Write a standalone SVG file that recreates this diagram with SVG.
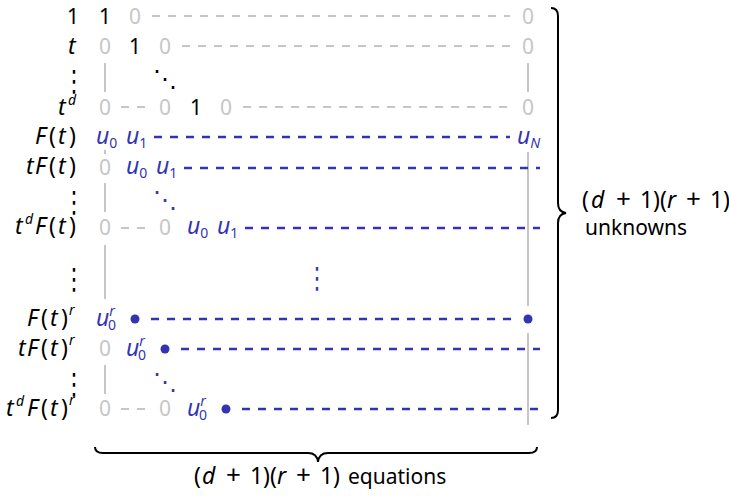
<svg xmlns="http://www.w3.org/2000/svg" width="729" height="496" viewBox="0 0 729 496">
<style>
text { font-family: "Noto Sans", "DejaVu Sans", sans-serif; font-size: 21px; fill: #000; }
.c { text-anchor: middle; }
.m { font-size: 23px; }
.i { font-style: italic; font-size: 23px; }
.p { font-size: 26px; }
.g { fill: #c6c6c6; }
.b { fill: #3434b2; }
.s { font-size: 14px; }
.dots { font-family: "DejaVu Sans", sans-serif; font-size: 22px; text-anchor: middle; }
.diag { font-family: "DejaVu Sans", sans-serif; font-size: 24px; text-anchor: middle; }
.gl { stroke: #c6c6c6; stroke-width: 2; fill: none; }
.gd { stroke: #c6c6c6; stroke-width: 2; stroke-dasharray: 8 8; fill: none; }
.bd { stroke: #3434b2; stroke-width: 2.4; stroke-dasharray: 8 8; fill: none; }
.dot { fill: #3434b2; }
.brace { stroke: #000; stroke-width: 2; fill: none; }
</style>

<g id="connectors">
  <path class="gd" d="M152,16 H510"/>
  <path class="gd" d="M182,46 H510"/>
  <path class="gd" d="M121,107 H145"/>
  <path class="gd" d="M243,107 H514"/>
  <path class="gd" d="M121,228 H145"/>
  <path class="gd" d="M121,409 H145"/>
  <path class="gl" d="M105,63 V92"/>
  <path class="gl" d="M105,150 V154"/>
  <path class="gl" d="M105,183 V212"/>
  <path class="gl" d="M105,245 V299"/>
  <path class="gl" d="M105,365 V394"/>
  <path class="gl" d="M528,63 V92"/>
  <path class="gl" d="M528,152 V306"/>
  <path class="gl" d="M528,333 V425"/>
  <path class="bd" d="M154,137 H510"/>
  <path class="bd" d="M184,168 H540"/>
  <path class="bd" d="M245,228 H540"/>
  <path class="bd" d="M151,319 H512"/>
  <path class="bd" d="M181,349 H540"/>
  <path class="bd" d="M242,409 H540"/>
</g>

<g id="row-1">
  <text x="67" y="24">1</text>
  <text class="c" x="105" y="24">1</text>
  <text class="c g" x="135" y="24">0</text>
  <text class="c g" x="528" y="24">0</text>
</g>

<g id="row-t">
  <text class="i" x="68" y="54">t</text>
  <text class="c g" x="105" y="54">0</text>
  <text class="c" x="135" y="54">1</text>
  <text class="c g" x="165" y="54">0</text>
  <text class="c g" x="528" y="54">0</text>
</g>

<g id="dots-1">
  <text class="dots" x="74" y="0" transform="translate(0,91) scale(1,1.33)">⋮</text>
  <text class="diag" x="165" y="87">⋱</text>
</g>

<g id="row-td">
  <text y="115"><tspan class="i" x="58">t</tspan><tspan class="i s" x="68" dy="-10">d</tspan></text>
  <text class="c g" x="105" y="115">0</text>
  <text class="c g" x="165" y="115">0</text>
  <text class="c" x="196" y="115">1</text>
  <text class="c g" x="226" y="115">0</text>
  <text class="c g" x="528" y="115">0</text>
</g>

<g id="row-Ft">
  <text y="144"><tspan class="i" x="35">F</tspan><tspan class="m" x="49">(</tspan><tspan class="i" x="58">t</tspan><tspan class="m" x="69">)</tspan></text>
  <text class="b" x="96" y="144"><tspan class="i">u</tspan><tspan class="s" dy="4">0</tspan></text>
  <text class="b" x="126" y="144"><tspan class="i">u</tspan><tspan class="s" dy="4">1</tspan></text>
  <text class="b" x="517" y="144"><tspan class="i">u</tspan><tspan class="i s" dy="4">N</tspan></text>
</g>

<g id="row-tFt">
  <text y="174"><tspan class="i" x="26">t</tspan><tspan class="i" x="35">F</tspan><tspan class="m" x="49">(</tspan><tspan class="i" x="58">t</tspan><tspan class="m" x="69">)</tspan></text>
  <text class="c g" x="105" y="175">0</text>
  <text class="b" x="126" y="174"><tspan class="i">u</tspan><tspan class="s" dy="4">0</tspan></text>
  <text class="b" x="156" y="174"><tspan class="i">u</tspan><tspan class="s" dy="4">1</tspan></text>
</g>

<g id="dots-2">
  <text class="dots" x="74" y="0" transform="translate(0,212) scale(1,1.33)">⋮</text>
  <text class="diag b" x="165" y="208">⋱</text>
</g>

<g id="row-tdFt">
  <text y="234"><tspan class="i" x="15">t</tspan><tspan class="i s" x="25" dy="-10">d</tspan><tspan class="i" x="35" dy="10">F</tspan><tspan class="m" x="49">(</tspan><tspan class="i" x="58">t</tspan><tspan class="m" x="69">)</tspan></text>
  <text class="c g" x="105" y="235">0</text>
  <text class="c g" x="165" y="235">0</text>
  <text class="b" x="187" y="234"><tspan class="i">u</tspan><tspan class="s" dy="4">0</tspan></text>
  <text class="b" x="217" y="234"><tspan class="i">u</tspan><tspan class="s" dy="4">1</tspan></text>
</g>

<g id="dots-3">
  <text class="dots" x="74" y="0" transform="translate(0,289) scale(1,1.33)">⋮</text>
  <text class="dots b" x="317" y="0" transform="translate(0,288) scale(1,1.33)">⋮</text>
</g>

<g id="row-Ftr">
  <text y="326"><tspan class="i" x="27">F</tspan><tspan class="m" x="41">(</tspan><tspan class="i" x="50">t</tspan><tspan class="m" x="61">)</tspan><tspan class="i s" x="69" dy="-11">r</tspan></text>
  <text class="b" x="96" y="326"><tspan class="i">u</tspan><tspan class="i s" dy="-10">r</tspan><tspan class="s" x="108" dy="14">0</tspan></text>
  <circle class="dot" cx="135" cy="319" r="4.5"/>
  <circle class="dot" cx="528" cy="319" r="4.5"/>
</g>

<g id="row-tFtr">
  <text y="356"><tspan class="i" x="18">t</tspan><tspan class="i" x="27">F</tspan><tspan class="m" x="41">(</tspan><tspan class="i" x="50">t</tspan><tspan class="m" x="61">)</tspan><tspan class="i s" x="69" dy="-11">r</tspan></text>
  <text class="c g" x="105" y="356">0</text>
  <text class="b" x="126" y="356"><tspan class="i">u</tspan><tspan class="i s" dy="-10">r</tspan><tspan class="s" x="138" dy="14">0</tspan></text>
  <circle class="dot" cx="165" cy="349" r="4.5"/>
</g>

<g id="dots-4">
  <text class="dots" x="74" y="0" transform="translate(0,394) scale(1,1.33)">⋮</text>
  <text class="diag b" x="165" y="390">⋱</text>
</g>

<g id="row-tdFtr">
  <text y="416"><tspan class="i" x="6">t</tspan><tspan class="i s" x="16" dy="-10">d</tspan><tspan class="i" x="27" dy="10">F</tspan><tspan class="m" x="41">(</tspan><tspan class="i" x="50">t</tspan><tspan class="m" x="61">)</tspan><tspan class="i s" x="69" dy="-11">r</tspan></text>
  <text class="c g" x="105" y="416">0</text>
  <text class="c g" x="165" y="416">0</text>
  <text class="b" x="187" y="416"><tspan class="i">u</tspan><tspan class="i s" dy="-10">r</tspan><tspan class="s" x="199" dy="14">0</tspan></text>
  <circle class="dot" cx="226" cy="409" r="4.5"/>
</g>

<g id="brace-right">
  <path class="brace" d="M551,8 Q558,8 558,16 V203 Q558,212 566,213 Q558,214 558,223 V410 Q558,418 551,418"/>
  <text y="208"><tspan class="m" x="582">(</tspan><tspan class="i" x="591">d</tspan><tspan class="p" x="616">+</tspan><tspan class="m" x="640">1</tspan><tspan class="m" x="653">)</tspan><tspan class="m" x="660">(</tspan><tspan class="i" x="667">r</tspan><tspan class="p" x="686">+</tspan><tspan class="m" x="710">1</tspan><tspan class="m" x="723">)</tspan></text>
  <text x="585" y="235">unknowns</text>
</g>

<g id="brace-bottom">
  <path class="brace" d="M95,447 Q95,453 103,453 H308 Q317,453 318,462 Q319,453 328,453 H529 Q537,453 537,447"/>
  <text y="484"><tspan class="m" x="194">(</tspan><tspan class="i" x="202">d</tspan><tspan class="p" x="226">+</tspan><tspan class="m" x="250">1</tspan><tspan class="m" x="263">)</tspan><tspan class="m" x="270">(</tspan><tspan class="i" x="277">r</tspan><tspan class="p" x="296">+</tspan><tspan class="m" x="320">1</tspan><tspan class="m" x="333">)</tspan><tspan x="348">equations</tspan></text>
</g>
</svg>
